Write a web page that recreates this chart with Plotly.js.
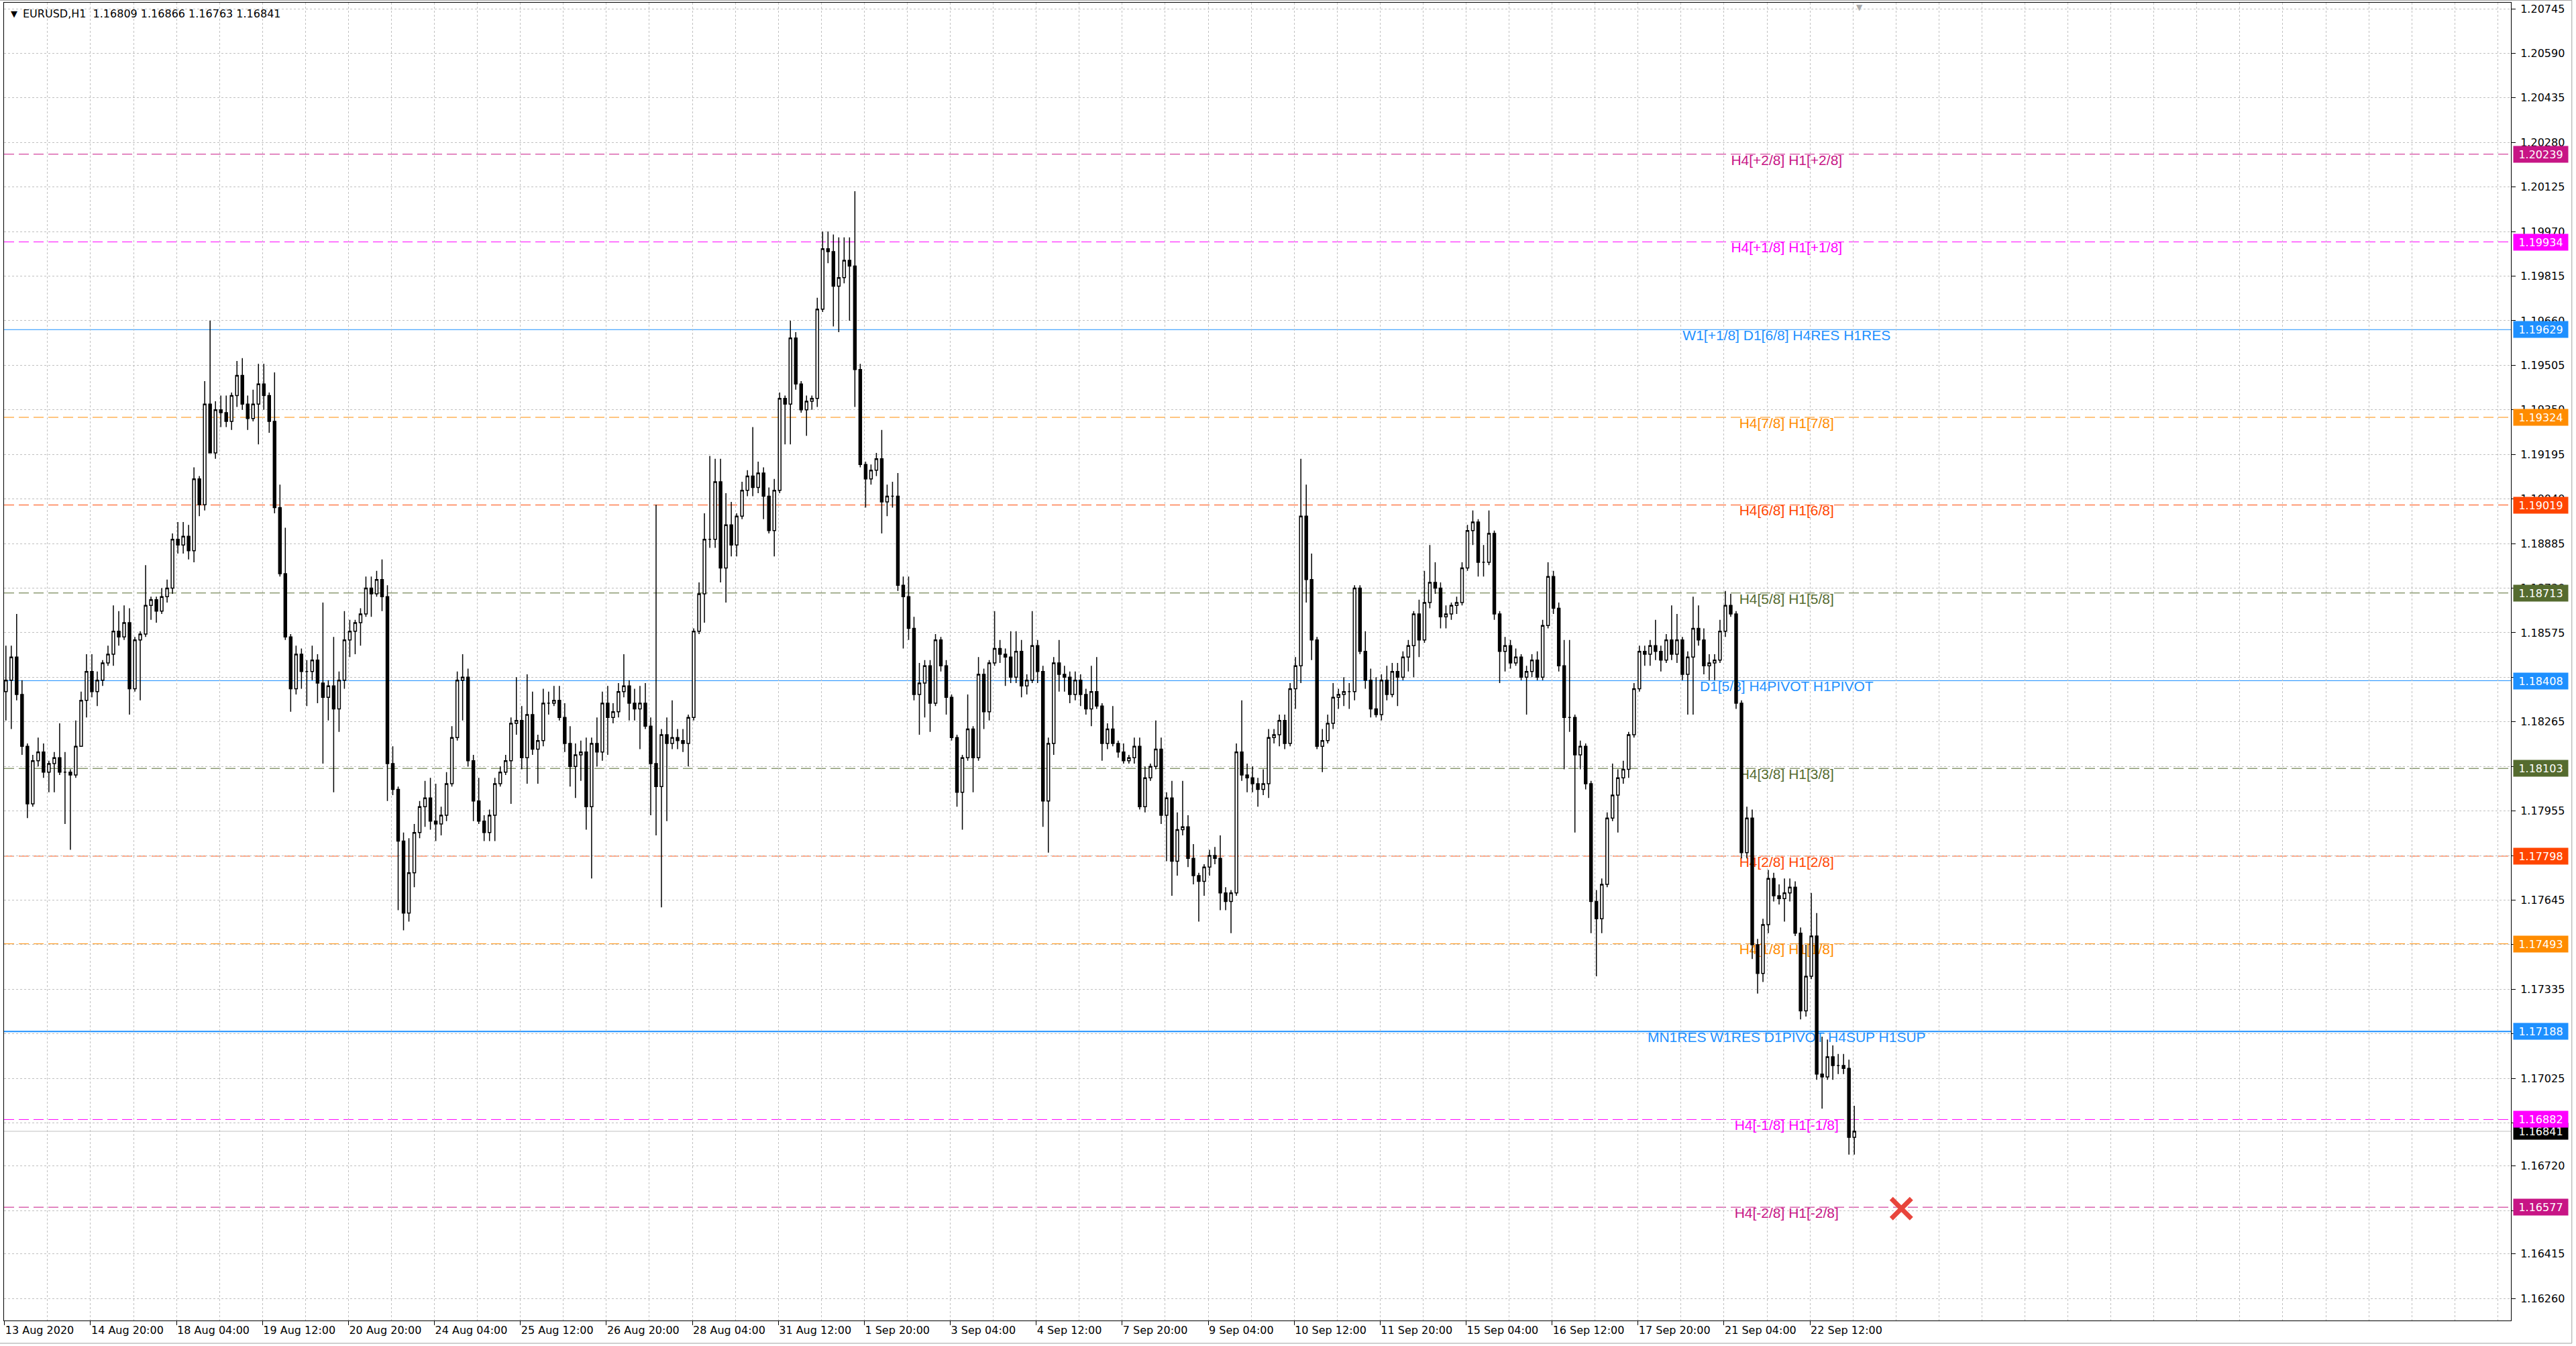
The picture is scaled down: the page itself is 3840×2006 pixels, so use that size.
<!DOCTYPE html>
<html>
<head>
<meta charset="utf-8">
<script src="https://cdn.plot.ly/plotly-3.0.1.min.js"></script>
<style>
  html, body { margin: 0; padding: 0; background: #fff; }
  #chart { width: 3840px; height: 2006px; }
</style>
</head>
<body>
<div id="chart"></div>
<script>
// EURUSD H1 in 2-hour steps (one entry = two H1 bars)
var open = [
  1.1837,1.1841,1.1849,1.1836,1.1818,1.1798,1.1813,1.1816,1.1809,1.1812,
  1.1814,1.1809,1.1809,1.1808,1.1818,1.1834,1.1844,1.1837,1.1841,1.1847,
  1.1850,1.1858,1.1856,1.1861,1.1838,1.1855,1.1857,1.1867,1.1869,1.1865,
  1.1870,1.1873,1.1890,1.1888,1.1891,1.1886,1.1911,1.1902,1.1937,1.1920,
  1.1935,1.1934,1.1931,1.1940,1.1947,1.1937,1.1932,1.1937,1.1944,1.1940,
  1.1931,1.1901,1.1878,1.1856,1.1838,1.1850,1.1844,1.1844,1.1848,1.1840,
  1.1835,1.1839,1.1831,1.1841,1.1855,1.1858,1.1861,1.1864,1.1873,1.1871,
  1.1876,1.1870,1.1812,1.1803,1.1785,1.1760,1.1774,1.1788,1.1797,1.1800,
  1.1792,1.1791,1.1794,1.1805,1.1821,1.1841,1.1842,1.1813,1.1799,1.1792,
  1.1788,1.1794,1.1805,1.1809,1.1813,1.1826,1.1827,1.1814,1.1829,1.1817,
  1.1820,1.1833,1.1833,1.1834,1.1828,1.1819,1.1811,1.1815,1.1816,1.1797,
  1.1819,1.1816,1.1833,1.1828,1.1830,1.1837,1.1839,1.1833,1.1831,1.1833,
  1.1825,1.1812,1.1804,1.1822,1.1819,1.1821,1.1820,1.1819,1.1828,1.1858,
  1.1871,1.1890,1.1890,1.1910,1.1880,1.1895,1.1888,1.1898,1.1907,1.1912,
  1.1908,1.1913,1.1905,1.1893,1.1907,1.1939,1.1937,1.1960,1.1944,1.1935,
  1.1938,1.1939,1.1970,1.1991,1.1990,1.1978,1.1981,1.1987,1.1985,1.1949,
  1.1916,1.1911,1.1914,1.1918,1.1903,1.1905,1.1905,1.1874,1.1870,1.1859,
  1.1836,1.1840,1.1846,1.1833,1.1855,1.1846,1.1835,1.1821,1.1802,1.1814,
  1.1824,1.1814,1.1843,1.1830,1.1847,1.1852,1.1850,1.1849,1.1842,1.1851,
  1.1839,1.1841,1.1853,1.1844,1.1799,1.1819,1.1847,1.1843,1.1842,1.1836,
  1.1841,1.1836,1.1831,1.1837,1.1832,1.1819,1.1824,1.1819,1.1816,1.1813,
  1.1814,1.1818,1.1797,1.1807,1.1811,1.1817,1.1794,1.1800,1.1778,1.1789,
  1.1790,1.1779,1.1773,1.1771,1.1776,1.1780,1.1779,1.1767,1.1764,1.1767,
  1.1816,1.1808,1.1807,1.1805,1.1803,1.1805,1.1821,1.1822,1.1827,1.1819,
  1.1838,1.1846,1.1898,1.1876,1.1855,1.1818,1.1820,1.1826,1.1835,1.1836,
  1.1837,1.1837,1.1873,1.1851,1.1841,1.1831,1.1829,1.1841,1.1836,1.1844,
  1.1842,1.1849,1.1853,1.1864,1.1855,1.1868,1.1875,1.1873,1.1863,1.1864,
  1.1867,1.1868,1.1880,1.1893,1.1896,1.1882,1.1882,1.1892,1.1864,1.1851,
  1.1853,1.1847,1.1849,1.1842,1.1844,1.1848,1.1842,1.1860,1.1877,1.1866,
  1.1846,1.1828,1.1828,1.1815,1.1818,1.1805,1.1764,1.1758,1.1770,1.1793,
  1.1801,1.1807,1.1810,1.1822,1.1838,1.1851,1.1850,1.1853,1.1851,1.1848,
  1.1855,1.1850,1.1855,1.1843,1.1849,1.1859,1.1855,1.1846,1.1847,1.1848,
  1.1858,1.1867,1.1864,1.1833,1.1781,1.1793,1.1749,1.1739,1.1756,1.1772,
  1.1766,1.1765,1.1767,1.1769,1.1753,1.1726,1.1738,1.1752,1.1704,1.1703,
  1.1710,1.1707,1.1707,1.1706,1.1682
];
var high = [
  1.1853,1.1853,1.1864,1.1841,1.1819,1.1815,1.1821,1.1819,1.1813,1.1816,
  1.1826,1.1816,1.1810,1.1827,1.1837,1.1850,1.1850,1.1844,1.1848,1.1853,
  1.1867,1.1865,1.1867,1.1866,1.1856,1.1858,1.1881,1.1870,1.1870,1.1873,
  1.1876,1.1892,1.1896,1.1896,1.1895,1.1915,1.1912,1.1945,1.1966,1.1938,
  1.1940,1.1940,1.1941,1.1952,1.1953,1.1940,1.1942,1.1951,1.1951,1.1941,
  1.1948,1.1909,1.1894,1.1857,1.1853,1.1852,1.1848,1.1853,1.1850,1.1868,
  1.1841,1.1856,1.1844,1.1865,1.1862,1.1862,1.1866,1.1877,1.1877,1.1879,
  1.1883,1.1874,1.1818,1.1804,1.1788,1.1786,1.1791,1.1799,1.1806,1.1807,
  1.1805,1.1797,1.1809,1.1825,1.1844,1.1850,1.1845,1.1815,1.1807,1.1794,
  1.1796,1.1807,1.1811,1.1815,1.1828,1.1842,1.1832,1.1843,1.1837,1.1822,
  1.1838,1.1837,1.1839,1.1839,1.1833,1.1825,1.1819,1.1820,1.1821,1.1821,
  1.1828,1.1837,1.1839,1.1833,1.1840,1.1850,1.1841,1.1838,1.1839,1.1840,
  1.1828,1.1902,1.1824,1.1828,1.1834,1.1824,1.1824,1.1829,1.1859,1.1875,
  1.1899,1.1919,1.1918,1.1918,1.1906,1.1903,1.1899,1.1910,1.1914,1.1929,
  1.1917,1.1915,1.1908,1.1911,1.1941,1.1940,1.1966,1.1962,1.1945,1.1940,
  1.1940,1.1974,1.1997,1.1997,1.1996,1.1995,1.1995,1.1995,1.2011,1.1951,
  1.1917,1.1916,1.1920,1.1928,1.1909,1.1910,1.1913,1.1877,1.1877,1.1863,
  1.1847,1.1848,1.1848,1.1857,1.1856,1.1848,1.1836,1.1822,1.1815,1.1836,
  1.1825,1.1849,1.1845,1.1848,1.1865,1.1855,1.1852,1.1858,1.1858,1.1855,
  1.1843,1.1865,1.1855,1.1846,1.1821,1.1849,1.1855,1.1846,1.1844,1.1844,
  1.1843,1.1838,1.1846,1.1849,1.1833,1.1826,1.1832,1.1820,1.1819,1.1815,
  1.1821,1.1821,1.1811,1.1812,1.1827,1.1821,1.1802,1.1806,1.1795,1.1806,
  1.1794,1.1784,1.1774,1.1777,1.1782,1.1783,1.1787,1.1769,1.1768,1.1819,
  1.1834,1.1812,1.1811,1.1807,1.1810,1.1824,1.1824,1.1829,1.1829,1.1840,
  1.1849,1.1918,1.1909,1.1885,1.1856,1.1824,1.1829,1.1840,1.1838,1.1842,
  1.1840,1.1874,1.1874,1.1858,1.1845,1.1842,1.1843,1.1846,1.1847,1.1847,
  1.1851,1.1855,1.1865,1.1869,1.1879,1.1888,1.1882,1.1875,1.1867,1.1868,
  1.1870,1.1882,1.1895,1.1900,1.1897,1.1888,1.1900,1.1893,1.1865,1.1856,
  1.1855,1.1852,1.1850,1.1846,1.1850,1.1851,1.1862,1.1882,1.1879,1.1868,
  1.1855,1.1855,1.1829,1.1820,1.1819,1.1806,1.1768,1.1772,1.1795,1.1812,
  1.1810,1.1813,1.1823,1.1840,1.1853,1.1853,1.1855,1.1862,1.1853,1.1857,
  1.1867,1.1864,1.1856,1.1851,1.1870,1.1867,1.1859,1.1850,1.1850,1.1862,
  1.1872,1.1871,1.1865,1.1834,1.1797,1.1796,1.1751,1.1758,1.1775,1.1774,
  1.1770,1.1772,1.1772,1.1771,1.1755,1.1749,1.1767,1.1760,1.1717,1.1716,
  1.1714,1.1711,1.1711,1.1709,1.1693
];
var low = [
  1.1827,1.1824,1.1834,1.1815,1.1793,1.1797,1.1811,1.1807,1.1802,1.1802,
  1.1808,1.1791,1.1782,1.1807,1.1818,1.1828,1.1835,1.1832,1.1839,1.1846,
  1.1846,1.1853,1.1855,1.1829,1.1837,1.1834,1.1856,1.1862,1.1861,1.1864,
  1.1868,1.1871,1.1885,1.1885,1.1883,1.1882,1.1898,1.1900,1.1920,1.1918,
  1.1929,1.1929,1.1928,1.1936,1.1935,1.1928,1.1931,1.1923,1.1935,1.1927,
  1.1899,1.1877,1.1855,1.1830,1.1836,1.1838,1.1832,1.1841,1.1833,1.1812,
  1.1827,1.1802,1.1823,1.1838,1.1849,1.1850,1.1853,1.1863,1.1863,1.1870,
  1.1865,1.1799,1.1801,1.1761,1.1754,1.1757,1.1769,1.1786,1.1790,1.1789,
  1.1785,1.1787,1.1792,1.1804,1.1820,1.1827,1.1811,1.1792,1.1791,1.1785,
  1.1785,1.1785,1.1804,1.1808,1.1798,1.1822,1.1810,1.1805,1.1815,1.1805,
  1.1818,1.1829,1.1832,1.1827,1.1816,1.1804,1.1800,1.1806,1.1789,1.1772,
  1.1811,1.1813,1.1815,1.1826,1.1828,1.1835,1.1827,1.1827,1.1817,1.1824,
  1.1794,1.1787,1.1762,1.1792,1.1817,1.1817,1.1816,1.1811,1.1827,1.1857,
  1.1861,1.1887,1.1887,1.1875,1.1868,1.1884,1.1884,1.1897,1.1905,1.1905,
  1.1906,1.1897,1.1892,1.1884,1.1906,1.1923,1.1923,1.1942,1.1934,1.1926,
  1.1935,1.1936,1.1969,1.1986,1.1964,1.1962,1.1979,1.1966,1.1936,1.1915,
  1.1901,1.1909,1.1912,1.1892,1.1898,1.1901,1.1872,1.1852,1.1855,1.1834,
  1.1822,1.1828,1.1823,1.1832,1.1844,1.1829,1.1820,1.1797,1.1789,1.1813,
  1.1802,1.1813,1.1824,1.1827,1.1846,1.1847,1.1839,1.1840,1.1840,1.1835,
  1.1836,1.1840,1.1840,1.1790,1.1781,1.1815,1.1837,1.1837,1.1833,1.1834,
  1.1832,1.1829,1.1825,1.1831,1.1813,1.1817,1.1818,1.1814,1.1812,1.1812,
  1.1812,1.1796,1.1795,1.1806,1.1810,1.1791,1.1778,1.1766,1.1773,1.1787,
  1.1776,1.1770,1.1757,1.1766,1.1773,1.1777,1.1761,1.1761,1.1753,1.1766,
  1.1806,1.1802,1.1802,1.1797,1.1801,1.1800,1.1819,1.1818,1.1817,1.1818,
  1.1831,1.1840,1.1868,1.1848,1.1817,1.1809,1.1819,1.1824,1.1831,1.1832,
  1.1831,1.1834,1.1850,1.1838,1.1828,1.1828,1.1827,1.1834,1.1835,1.1832,
  1.1841,1.1844,1.1842,1.1849,1.1854,1.1866,1.1871,1.1859,1.1859,1.1862,
  1.1864,1.1867,1.1879,1.1888,1.1877,1.1877,1.1881,1.1862,1.1840,1.1844,
  1.1845,1.1846,1.1841,1.1829,1.1842,1.1841,1.1841,1.1859,1.1864,1.1844,
  1.1810,1.1823,1.1788,1.1810,1.1803,1.1753,1.1738,1.1753,1.1769,1.1792,
  1.1788,1.1805,1.1807,1.1821,1.1837,1.1846,1.1846,1.1848,1.1844,1.1847,
  1.1848,1.1847,1.1841,1.1829,1.1829,1.1853,1.1843,1.1841,1.1841,1.1847,
  1.1856,1.1863,1.1831,1.1779,1.1779,1.1744,1.1732,1.1736,1.1753,1.1764,
  1.1763,1.1757,1.1764,1.1752,1.1723,1.1724,1.1737,1.1702,1.1692,1.1702,
  1.1702,1.1704,1.1704,1.1676,1.1676
];
var close = [
  1.1841,1.1849,1.1836,1.1818,1.1798,1.1813,1.1816,1.1809,1.1812,1.1814,
  1.1809,1.1809,1.1808,1.1818,1.1834,1.1844,1.1837,1.1841,1.1847,1.1850,
  1.1858,1.1856,1.1861,1.1838,1.1855,1.1857,1.1867,1.1869,1.1865,1.1870,
  1.1873,1.1890,1.1888,1.1891,1.1886,1.1911,1.1902,1.1937,1.1920,1.1935,
  1.1934,1.1931,1.1940,1.1947,1.1937,1.1932,1.1937,1.1944,1.1940,1.1931,
  1.1901,1.1878,1.1856,1.1838,1.1850,1.1844,1.1844,1.1848,1.1840,1.1835,
  1.1839,1.1831,1.1841,1.1855,1.1858,1.1861,1.1864,1.1873,1.1871,1.1876,
  1.1870,1.1812,1.1803,1.1785,1.1760,1.1774,1.1788,1.1797,1.1800,1.1792,
  1.1791,1.1794,1.1805,1.1821,1.1841,1.1842,1.1813,1.1799,1.1792,1.1788,
  1.1794,1.1805,1.1809,1.1813,1.1826,1.1827,1.1814,1.1829,1.1817,1.1820,
  1.1833,1.1833,1.1834,1.1828,1.1819,1.1811,1.1815,1.1816,1.1797,1.1819,
  1.1816,1.1833,1.1828,1.1830,1.1837,1.1839,1.1833,1.1831,1.1833,1.1825,
  1.1812,1.1804,1.1822,1.1819,1.1821,1.1820,1.1819,1.1828,1.1858,1.1871,
  1.1890,1.1890,1.1910,1.1880,1.1895,1.1888,1.1898,1.1907,1.1912,1.1908,
  1.1913,1.1905,1.1893,1.1907,1.1939,1.1937,1.1960,1.1944,1.1935,1.1938,
  1.1939,1.1970,1.1991,1.1990,1.1978,1.1981,1.1987,1.1985,1.1949,1.1916,
  1.1911,1.1914,1.1918,1.1903,1.1905,1.1905,1.1874,1.1870,1.1859,1.1836,
  1.1840,1.1846,1.1833,1.1855,1.1846,1.1835,1.1821,1.1802,1.1814,1.1824,
  1.1814,1.1843,1.1830,1.1847,1.1852,1.1850,1.1849,1.1842,1.1851,1.1839,
  1.1841,1.1853,1.1844,1.1799,1.1819,1.1847,1.1843,1.1842,1.1836,1.1841,
  1.1836,1.1831,1.1837,1.1832,1.1819,1.1824,1.1819,1.1816,1.1813,1.1814,
  1.1818,1.1797,1.1807,1.1811,1.1817,1.1794,1.1800,1.1778,1.1789,1.1790,
  1.1779,1.1773,1.1771,1.1776,1.1780,1.1779,1.1767,1.1764,1.1767,1.1816,
  1.1808,1.1807,1.1805,1.1803,1.1805,1.1821,1.1822,1.1827,1.1819,1.1838,
  1.1846,1.1898,1.1876,1.1855,1.1818,1.1820,1.1826,1.1835,1.1836,1.1837,
  1.1837,1.1873,1.1851,1.1841,1.1831,1.1829,1.1841,1.1836,1.1844,1.1842,
  1.1849,1.1853,1.1864,1.1855,1.1868,1.1875,1.1873,1.1863,1.1864,1.1867,
  1.1868,1.1880,1.1893,1.1896,1.1882,1.1882,1.1892,1.1864,1.1851,1.1853,
  1.1847,1.1849,1.1842,1.1844,1.1848,1.1842,1.1860,1.1877,1.1866,1.1846,
  1.1828,1.1828,1.1815,1.1818,1.1805,1.1764,1.1758,1.1770,1.1793,1.1801,
  1.1807,1.1810,1.1822,1.1838,1.1851,1.1850,1.1853,1.1851,1.1848,1.1855,
  1.1850,1.1855,1.1843,1.1849,1.1859,1.1855,1.1846,1.1847,1.1848,1.1858,
  1.1867,1.1864,1.1833,1.1781,1.1793,1.1749,1.1739,1.1756,1.1772,1.1766,
  1.1765,1.1767,1.1769,1.1753,1.1726,1.1738,1.1752,1.1704,1.1703,1.1710,
  1.1707,1.1707,1.1706,1.1682,1.16841
];

// last H1 bar as shown in the chart header
var lastBar = [1.16809, 1.16866, 1.16763, 1.16841];

// Murrey levels drawn by the indicator
var levelPrices = [1.20239, 1.19934, 1.19629, 1.19324, 1.19019, 1.18713, 1.18408,
                   1.18103, 1.17798, 1.17493, 1.17188, 1.16882, 1.16577];
var levelLabels = [
  'H4[+2/8] H1[+2/8]', 'H4[+1/8] H1[+1/8]', 'W1[+1/8] D1[6/8] H4RES H1RES',
  'H4[7/8] H1[7/8]', 'H4[6/8] H1[6/8]', 'H4[5/8] H1[5/8]', 'D1[5/8] H4PIVOT H1PIVOT',
  'H4[3/8] H1[3/8]', 'H4[2/8] H1[2/8]', 'H4[1/8] H1[1/8]',
  'MN1RES W1RES D1PIVOT H4SUP H1SUP', 'H4[-1/8] H1[-1/8]', 'H4[-2/8] H1[-2/8]'
];
var levelColors = ['#C71585', '#FF00FF', '#1E90FF', '#FF8C00', '#FF4500', '#556B2F', '#1E90FF',
                   '#556B2F', '#FF4500', '#FF8C00', '#1E90FF', '#FF00FF', '#C71585'];
var levelDash = ['dash', 'dash', 'solid', 'dash', 'dash', 'dash', 'solid',
                 'dash', 'dash', 'dash', 'solid', 'dash', 'dash'];
var levelWidth = [1, 1, 1, 1, 1, 1, 1, 1, 1, 1, 2, 1, 1];

// time scale labels (one every 32 H1 bars) and price scale labels
var xLabels = ['13 Aug 2020', '14 Aug 20:00', '18 Aug 04:00', '19 Aug 12:00', '20 Aug 20:00',
               '24 Aug 04:00', '25 Aug 12:00', '26 Aug 20:00', '28 Aug 04:00', '31 Aug 12:00',
               '1 Sep 20:00', '3 Sep 04:00', '4 Sep 12:00', '7 Sep 20:00', '9 Sep 04:00',
               '10 Sep 12:00', '11 Sep 20:00', '15 Sep 04:00', '16 Sep 12:00', '17 Sep 20:00',
               '21 Sep 04:00', '22 Sep 12:00'];
var yTicks = [1.20745, 1.20590, 1.20435, 1.20280, 1.20125, 1.19970, 1.19815, 1.19660, 1.19505,
              1.19350, 1.19195, 1.19040, 1.18885, 1.18730, 1.18575, 1.18420, 1.18265, 1.18110,
              1.17955, 1.17800, 1.17645, 1.17490, 1.17335, 1.17180, 1.17025, 1.16870, 1.16720,
              1.16565, 1.16415, 1.16260];

// red cross object
var crossX = [706];
var crossY = [1.16572];

var BARS_PER_LABEL = 32;
var LABEL_BAR = 663.3;
var xRange = [-0.2, 932.9];
var yRange = [1.16183, 1.20766];
var GRID = '#C0C0C0';
var AXIS_FONT = {family: 'DejaVu Sans, Verdana, sans-serif', size: 16, color: '#000'};

var candleX = open.map(function (v, k) { return 2 * k + 0.5; });
var xTickBars = xLabels.map(function (s, i) { return i * BARS_PER_LABEL; });

var traceText = {
  type: 'scatter', mode: 'text',
  x: levelPrices.map(function () { return LABEL_BAR; }),
  y: levelPrices,
  text: levelLabels,
  textposition: 'bottom center',
  textfont: {family: 'Liberation Sans, Arial, sans-serif', size: 21, color: levelColors},
  hoverinfo: 'skip', xaxis: 'x', yaxis: 'y'
};

var traceCandles = {
  type: 'candlestick',
  x: candleX, open: open, high: high, low: low, close: close,
  increasing: {line: {color: '#000000', width: 1.5}, fillcolor: '#FFFFFF'},
  decreasing: {line: {color: '#000000', width: 1.5}, fillcolor: '#000000'},
  whiskerwidth: 0,
  hoverinfo: 'skip', xaxis: 'x2', yaxis: 'y2'
};

var traceCross = {
  type: 'scatter', mode: 'markers',
  x: crossX, y: crossY,
  marker: {symbol: 'x-thin', size: 30, color: '#E8453C', line: {width: 7, color: '#E8453C'}},
  hoverinfo: 'skip', xaxis: 'x2', yaxis: 'y2'
};

var shapes = [];
levelPrices.forEach(function (p, i) {
  shapes.push({
    type: 'line', xref: 'paper', x0: 0, x1: 1, yref: 'y', y0: p, y1: p, layer: 'between',
    line: {color: levelColors[i], width: levelWidth[i], dash: levelDash[i] === 'dash' ? '15px,7px' : 'solid'}
  });
});
// bid line
shapes.push({
  type: 'line', xref: 'paper', x0: 0, x1: 1, yref: 'y',
  y0: close[close.length - 1], y1: close[close.length - 1], layer: 'between',
  line: {color: '#C0C0C0', width: 1}
});
// window frame
shapes.push({type: 'line', xref: 'paper', yref: 'paper', x0: 1.0243, x1: 1.0243, y0: -0.0173, y1: 1.0018,
             line: {color: '#A0A0A0', width: 1}});
shapes.push({type: 'line', xref: 'paper', yref: 'paper', x0: -0.002, x1: 1.0243, y0: -0.0173, y1: -0.0173,
             line: {color: '#A0A0A0', width: 1}});
shapes.push({type: 'line', xref: 'paper', yref: 'paper', x0: -0.002, x1: 1.0243, y0: 1.0018, y1: 1.0018,
             line: {color: '#A0A0A0', width: 1}});

var annotations = [];
annotations.push({
  xref: 'paper', x: 0, xanchor: 'left', xshift: 8,
  yref: 'paper', y: 1, yanchor: 'middle', yshift: -16,
  text: '\u25BC', showarrow: false, font: {family: 'DejaVu Sans', size: 13, color: '#000'}
});
annotations.push({
  xref: 'paper', x: 0, xanchor: 'left', xshift: 26,
  yref: 'paper', y: 1, yanchor: 'middle', yshift: -16,
  text: 'EURUSD,H1\u00A0\u00A0' + lastBar.map(function (v) { return v.toFixed(5); }).join(' '),
  showarrow: false, font: AXIS_FONT
});
annotations.push({
  xref: 'x', x: 690.5, xanchor: 'center',
  yref: 'paper', y: 1, yanchor: 'top', yshift: 2,
  text: '\u25BC', showarrow: false, font: {family: 'DejaVu Sans', size: 12, color: '#A8A8A8'}
});

function priceBox(p, color) {
  return {
    xref: 'paper', x: 1, xanchor: 'left', xshift: 3,
    yref: 'y', y: p, yanchor: 'middle',
    text: p.toFixed(5), showarrow: false,
    bgcolor: color, borderpad: 2, width: 77, height: 20, align: 'center',
    font: {family: 'DejaVu Sans, Verdana, sans-serif', size: 16, color: '#FFFFFF'}
  };
}
annotations.push(priceBox(close[close.length - 1], '#000000'));
levelPrices.forEach(function (p, i) { annotations.push(priceBox(p, levelColors[i])); });

var layout = {
  width: 3840, height: 2006,
  margin: {l: 6, r: 97, t: 4, b: 38, pad: 0},
  paper_bgcolor: '#FFFFFF', plot_bgcolor: '#FFFFFF',
  showlegend: false,
  font: AXIS_FONT,
  xaxis: {
    range: xRange, tickmode: 'array', tickvals: xTickBars, ticktext: xLabels,
    ticks: 'outside', ticklen: 6, tickcolor: '#000', tickwidth: 1,
    ticklabelposition: 'outside right', tickfont: AXIS_FONT,
    showgrid: true, gridcolor: GRID, gridwidth: 1, griddash: 'dot',
    minor: {tickmode: 'linear', tick0: 0, dtick: 16, showgrid: true, gridcolor: GRID, gridwidth: 1, griddash: 'dot', ticks: ''},
    showline: true, mirror: true, linecolor: '#000', linewidth: 1,
    zeroline: false, rangeslider: {visible: false}, fixedrange: true
  },
  yaxis: {
    range: yRange, side: 'right', tickmode: 'array', tickvals: yTicks,
    ticktext: yTicks.map(function (v) { return v.toFixed(5); }),
    ticks: 'outside', ticklen: 6, tickcolor: '#000', tickwidth: 1, ticklabelstandoff: 4,
    tickfont: AXIS_FONT,
    showgrid: true, gridcolor: GRID, gridwidth: 1, griddash: 'dot',
    showline: true, mirror: true, linecolor: '#000', linewidth: 1,
    zeroline: false, fixedrange: true
  },
  xaxis2: {overlaying: 'x', range: xRange, visible: false, rangeslider: {visible: false}, fixedrange: true},
  yaxis2: {overlaying: 'y', range: yRange, visible: false, fixedrange: true},
  shapes: shapes,
  annotations: annotations
};

Plotly.newPlot('chart', [traceText, traceCandles, traceCross], layout, {staticPlot: true, displayModeBar: false});
</script>
</body>
</html>
